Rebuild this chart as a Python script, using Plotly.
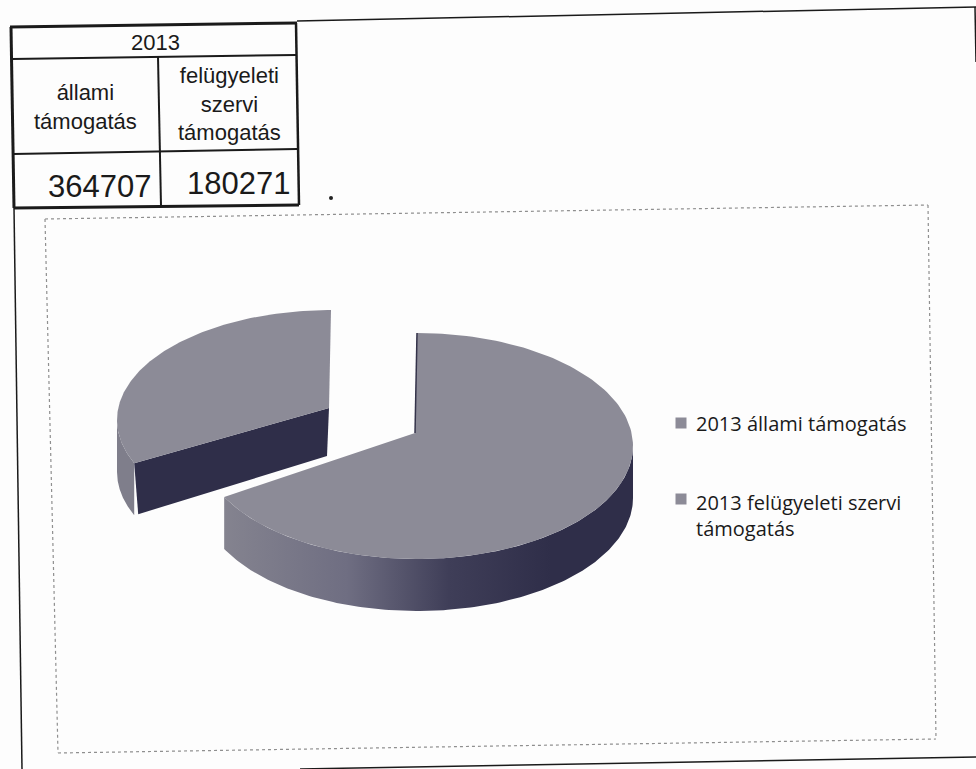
import numpy as np
import plotly.graph_objects as go

# ---- data ----
YEAR = "2013"
categories = ["2013 állami támogatás", "2013 felügyeleti szervi támogatás"]
values = [364707, 180271]
table_headers = ["állami<br>támogatás", "felügyeleti<br>szervi<br>támogatás"]

W, H = 976, 769
TOP = "#8c8b97"
DARK = "#2f2e49"
INK = "#1a1a1a"
DEPTH = 52

share = np.array(values) / sum(values)
sweep = share * 360


def arc(cx, cy, rx, ry, a0, a1, warp=0.0, n=160):
    t = np.radians(np.linspace(a0, a1, n))
    s = t + np.radians(warp) * np.sin(2 * t)
    return cx + rx * np.sin(s), cy - ry * np.cos(s)


fig = go.Figure()


def poly(x, y, color=None, **kw):
    args = dict(x=np.asarray(x), y=np.asarray(y), mode="lines", fill="toself",
                line=dict(width=0), hoverinfo="skip", showlegend=False)
    if color:
        args["fillcolor"] = color
    args.update(kw)
    fig.add_trace(go.Scatter(**args))


# big slice (rotated so it starts at 12 o'clock)
bc = dict(cx=417, cy=446, rx=216, ry=113, warp=2.7)
bx, by = arc(a0=0, a1=sweep[0], **bc)
sx, sy = arc(a0=90, a1=sweep[0], **bc)
poly(np.r_[sx, sx[::-1]], np.r_[sy, sy[::-1] + DEPTH],
     fillgradient=dict(type="horizontal",
                       colorscale=[[0, "#84838f"], [0.3, "#6f6e82"], [0.55, "#3f3e58"], [0.8, DARK], [1, DARK]]))
poly(np.r_[415, bx[::-1]], np.r_[433, by[::-1]], TOP)
fig.add_trace(go.Scatter(x=[bx[0], 415], y=[by[0], 433], mode="lines",
                         line=dict(color="#34334a", width=1.5), hoverinfo="skip", showlegend=False))

# small slice, pulled out of the pie
oc = dict(cx=331, cy=420, rx=214, ry=110, warp=7)
ox, oy = arc(a0=sweep[0], a1=360, **oc)
wx, wy = arc(a0=sweep[0], a1=270, **oc)
poly(np.r_[wx, wx[::-1]], np.r_[wy, wy[::-1] + DEPTH], "#7f7e8b")
poly([329, ox[0], ox[0] + 4, 327], [408, oy[0], oy[0] + 51, 456], DARK)
poly(np.r_[329, ox], np.r_[408, oy], TOP)

# legend markers
colors = [TOP, TOP]
fig.add_trace(go.Scatter(x=[681, 681], y=[423, 499], mode="markers",
                         marker=dict(symbol="square", size=11, color=colors),
                         hoverinfo="skip", showlegend=False))
# speck next to the table in the scan
fig.add_trace(go.Scatter(x=[331], y=[198], mode="markers",
                         marker=dict(symbol="circle", size=4, color="#222222"),
                         hoverinfo="skip", showlegend=False))

shapes = []


def line(x0, y0, x1, y1, w=2, c=INK, dash=None):
    shapes.append(dict(type="line", x0=x0, y0=y0, x1=x1, y1=y1,
                       line=dict(color=c, width=w, dash=dash), layer="above"))


# table
line(10, 27, 297, 23, 3)
line(12, 59, 296, 55, 2)
line(13, 154, 297, 149, 2)
line(14, 208, 299, 205, 3)
line(11, 27, 14, 208, 3)
line(296, 23, 299, 205, 2.5)
line(158, 57, 161, 206, 2)
# surrounding frame
line(297, 21, 976, 7, 1.5)
line(975, 7, 976, 62, 1.5)
line(14, 208, 22, 769, 1.5)
line(300, 769, 976, 757, 1.5)
# chart frame
FRAME = "#8f8f8f"
line(45, 219, 928, 205, 1.2, FRAME, "dot")
line(45, 219, 58, 753, 1.2, FRAME, "dot")
line(58, 753, 936, 739, 1.2, FRAME, "dot")
line(928, 205, 936, 739, 1.2, FRAME, "dot")

ann = []


def text(x, y, s, size, font="Liberation Sans", anchor="center"):
    ann.append(dict(x=x, y=y, text=s, showarrow=False, xanchor=anchor, yanchor="middle",
                    font=dict(family=font, size=size, color=INK), align="center"))


text(155, 42, YEAR, 22)
text(85, 107, table_headers[0], 22)
text(229, 104, table_headers[1], 22)
text(99, 186, f"{values[0]}", 31)
text(238, 183, f"{values[1]}", 31)
text(694, 423, categories[0], 20, "Open Sans", "left")
text(694, 515, categories[1].replace("szervi ", "szervi<br>"), 20, "Open Sans", "left")
ann[-1]["align"] = "left"

fig.update_layout(
    width=W, height=H, margin=dict(l=0, r=0, t=0, b=0),
    paper_bgcolor="#fdfdfd", plot_bgcolor="#fdfdfd", showlegend=False,
    xaxis=dict(range=[0, W], visible=False, fixedrange=True),
    yaxis=dict(range=[H, 0], visible=False, fixedrange=True),
    shapes=shapes, annotations=ann,
)
fig.write_html("out.html", config=dict(displayModeBar=False),
               post_script="document.body.style.margin='0';document.body.style.overflow='hidden';")
